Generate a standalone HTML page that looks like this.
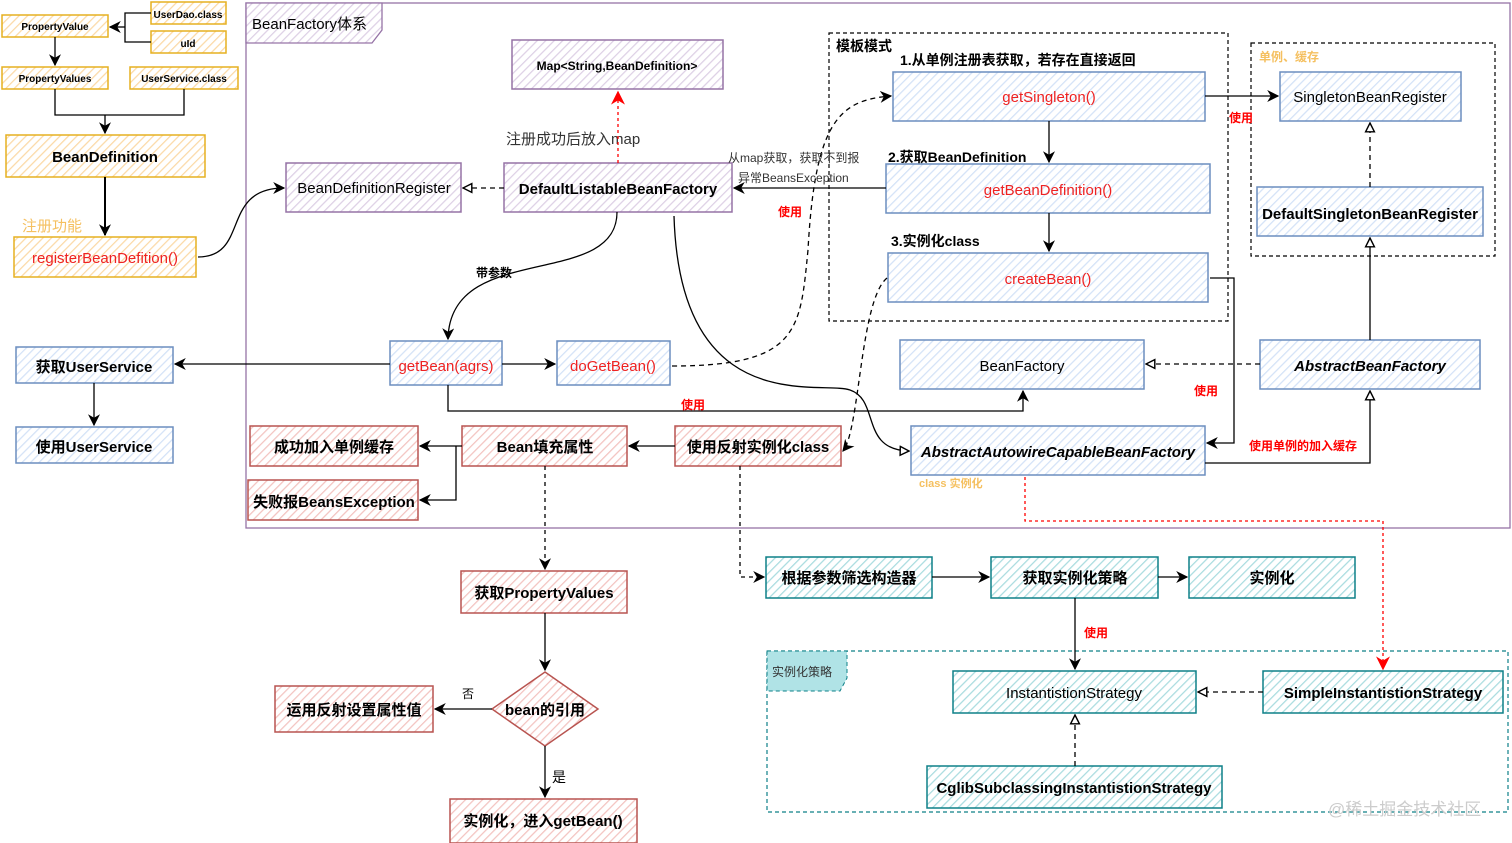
<!DOCTYPE html>
<html><head><meta charset="utf-8"><style>
html,body{margin:0;padding:0;background:#fff;}
svg{display:block;}
text{font-family:"Liberation Sans","Noto Sans CJK SC",sans-serif;}
</style></head><body>
<svg width="1512" height="843" viewBox="0 0 1512 843" xmlns="http://www.w3.org/2000/svg">
<defs>
<pattern id="hy" width="6" height="6" patternUnits="userSpaceOnUse" patternTransform="rotate(45)"><rect width="6" height="6" fill="#fff"/><line x1="0" y1="0" x2="0" y2="6" stroke="#fbd9a6" stroke-width="2.5"/></pattern>
<pattern id="hp" width="6" height="6" patternUnits="userSpaceOnUse" patternTransform="rotate(45)"><rect width="6" height="6" fill="#fff"/><line x1="0" y1="0" x2="0" y2="6" stroke="#ddd0e5" stroke-width="2.5"/></pattern>
<pattern id="hb" width="6" height="6" patternUnits="userSpaceOnUse" patternTransform="rotate(45)"><rect width="6" height="6" fill="#fff"/><line x1="0" y1="0" x2="0" y2="6" stroke="#d3e2f7" stroke-width="2.5"/></pattern>
<pattern id="hr" width="6" height="6" patternUnits="userSpaceOnUse" patternTransform="rotate(45)"><rect width="6" height="6" fill="#fff"/><line x1="0" y1="0" x2="0" y2="6" stroke="#f3c3c0" stroke-width="2.5"/></pattern>
<pattern id="ht" width="6" height="6" patternUnits="userSpaceOnUse" patternTransform="rotate(45)"><rect width="6" height="6" fill="#fff"/><line x1="0" y1="0" x2="0" y2="6" stroke="#a9dcdf" stroke-width="2.5"/></pattern>
<marker id="a" viewBox="0 0 10 10" refX="9" refY="5" markerWidth="12" markerHeight="12" orient="auto" markerUnits="userSpaceOnUse"><path d="M0,0 L10,5 L0,10 L3,5z" fill="#000"/></marker>
<marker id="ar" viewBox="0 0 10 10" refX="9" refY="5" markerWidth="14" markerHeight="14" orient="auto" markerUnits="userSpaceOnUse"><path d="M0,0 L10,5 L0,10 L3,5z" fill="#f00"/></marker>
<marker id="o" viewBox="0 0 10 10" refX="9" refY="5" markerWidth="11" markerHeight="11" orient="auto" markerUnits="userSpaceOnUse"><path d="M1,1 L9,5 L1,9z" fill="#fff" stroke="#000" stroke-width="1.3"/></marker>
</defs>

<rect x="246" y="3" width="1264" height="525" fill="none" stroke="#9673a6" stroke-width="1.3"/>
<path d="M246,3 H382 V30 L372,43 H246z" fill="url(#hp)" stroke="#9673a6" stroke-width="1.3"/>
<text x="252" y="29" font-size="15">BeanFactory体系</text>
<rect x="829" y="33" width="399" height="288" fill="none" stroke="#000" stroke-dasharray="4,3" stroke-width="1.2"/>
<text x="836" y="51" font-size="14" font-weight="bold">模板模式</text>
<text x="900" y="65" font-size="14" font-weight="bold">1.从单例注册表获取，若存在直接返回</text>
<rect x="1251" y="43" width="244" height="213" fill="none" stroke="#000" stroke-dasharray="4,3" stroke-width="1.2"/>
<text x="1259" y="61" font-size="12" fill="#f5c060" font-weight="bold">单例、缓存</text>
<rect x="767" y="651" width="741" height="161" fill="none" stroke="#0e8088" stroke-dasharray="4,3" stroke-width="1.2"/>
<path d="M767,651 H847 V678 L840,691 H767z" fill="#b0e3e6" stroke="#0e8088" stroke-dasharray="4,3"/>
<text x="772" y="676" font-size="12" fill="#333">实例化策略</text>

<g stroke="#e6b020" stroke-width="1.5" fill="url(#hy)">
<rect x="2" y="15" width="106" height="22"/><rect x="151" y="2" width="75" height="22"/><rect x="151" y="31" width="75" height="22"/>
<rect x="2" y="67" width="106" height="22"/><rect x="130" y="67" width="108" height="22"/>
<rect x="6" y="135" width="199" height="42"/><rect x="14" y="237" width="182" height="40"/>
</g>
<g font-size="10" font-weight="bold" text-anchor="middle">
<text x="55" y="30">PropertyValue</text><text x="188" y="18">UserDao.class</text><text x="188" y="47">uId</text>
<text x="55" y="82">PropertyValues</text><text x="184" y="82">UserService.class</text>
</g>
<text x="105" y="162" font-size="15" font-weight="bold" text-anchor="middle">BeanDefinition</text>
<text x="105" y="263" font-size="15" fill="#e22" text-anchor="middle">registerBeanDefition()</text>
<text x="22" y="231" font-size="15" fill="#f5c060">注册功能</text>

<g stroke="#9673a6" stroke-width="1.5" fill="url(#hp)">
<rect x="512" y="40" width="211" height="49"/><rect x="286" y="163" width="175" height="49"/><rect x="504" y="163" width="228" height="49"/>
</g>
<text x="617" y="70" font-size="12" font-weight="bold" text-anchor="middle">Map&lt;String,BeanDefinition&gt;</text>
<text x="374" y="193" font-size="15" text-anchor="middle">BeanDefinitionRegister</text>
<text x="618" y="194" font-size="15" font-weight="bold" text-anchor="middle">DefaultListableBeanFactory</text>
<text x="506" y="144" font-size="15" fill="#333">注册成功后放入map</text>

<g stroke="#6c8ebf" stroke-width="1.5" fill="url(#hb)">
<rect x="893" y="72" width="312" height="49"/><rect x="886" y="164" width="324" height="49"/><rect x="888" y="253" width="320" height="49"/>
<rect x="1280" y="72" width="181" height="49"/><rect x="1257" y="187" width="226" height="49"/>
<rect x="900" y="340" width="244" height="49"/><rect x="1260" y="340" width="220" height="49"/><rect x="911" y="426" width="294" height="49"/>
<rect x="390" y="341" width="112" height="44"/><rect x="557" y="341" width="113" height="44"/>
<rect x="16" y="347" width="157" height="36"/><rect x="16" y="427" width="157" height="36"/>
</g>
<g font-size="15" text-anchor="middle">
<text x="1049" y="102" fill="#e22">getSingleton()</text>
<text x="1048" y="195" fill="#e22">getBeanDefinition()</text>
<text x="1048" y="284" fill="#e22">createBean()</text>
<text x="1370" y="102">SingletonBeanRegister</text>
<text x="1370" y="219" font-weight="bold">DefaultSingletonBeanRegister</text>
<text x="1022" y="371">BeanFactory</text>
<text x="1370" y="371" font-style="italic" font-weight="bold">AbstractBeanFactory</text>
<text x="1058" y="457" font-style="italic" font-weight="bold">AbstractAutowireCapableBeanFactory</text>
<text x="446" y="371" fill="#e22">getBean(agrs)</text>
<text x="613" y="371" fill="#e22">doGetBean()</text>
<text x="94" y="372" font-weight="bold">获取UserService</text>
<text x="94" y="452" font-weight="bold">使用UserService</text>
</g>
<text x="888" y="162" font-size="14" font-weight="bold">2.获取BeanDefinition</text>
<text x="891" y="246" font-size="14" font-weight="bold">3.实例化class</text>

<g stroke="#b85450" stroke-width="1.5" fill="url(#hr)">
<rect x="250" y="426" width="168" height="40"/><rect x="462" y="426" width="165" height="40"/><rect x="675" y="426" width="166" height="40"/>
<rect x="248" y="480" width="170" height="40"/><rect x="461" y="571" width="166" height="42"/><rect x="275" y="686" width="158" height="46"/>
<path d="M545,672 L598,709 L545,746 L492,709z"/><rect x="450" y="799" width="187" height="44"/>
</g>
<g font-size="15" font-weight="bold" text-anchor="middle">
<text x="334" y="452">成功加入单例缓存</text><text x="545" y="452">Bean填充属性</text><text x="758" y="452">使用反射实例化class</text>
<text x="334" y="507">失败报BeansException</text><text x="544" y="598">获取PropertyValues</text><text x="354" y="715">运用反射设置属性值</text>
<text x="545" y="715">bean的引用</text><text x="543" y="826">实例化，进入getBean()</text>
</g>
<text x="462" y="698" font-size="12">否</text><text x="552" y="782" font-size="14">是</text>

<g stroke="#0e8088" stroke-width="1.5" fill="url(#ht)">
<rect x="766" y="557" width="166" height="41"/><rect x="991" y="557" width="167" height="41"/><rect x="1189" y="557" width="166" height="41"/>
<rect x="953" y="671" width="243" height="42"/><rect x="1263" y="671" width="240" height="42"/><rect x="927" y="766" width="295" height="42"/>
</g>
<g font-size="15" text-anchor="middle">
<text x="849" y="583" font-weight="bold">根据参数筛选构造器</text><text x="1075" y="583" font-weight="bold">获取实例化策略</text><text x="1272" y="583" font-weight="bold">实例化</text>
<text x="1074" y="698">InstantistionStrategy</text><text x="1383" y="698" font-weight="bold">SimpleInstantistionStrategy</text>
<text x="1074" y="793" font-weight="bold">CglibSubclassingInstantistionStrategy</text>
</g>

<g fill="none" stroke="#000" stroke-width="1.3">
<path d="M151,13 H125 V42 H151"/><path d="M125,27 H110" marker-end="url(#a)"/>
<path d="M55,37 V65" marker-end="url(#a)"/>
<path d="M55,89 V115 H184 V89"/><path d="M105,115 V133" marker-end="url(#a)"/>
<path d="M105,177 V235" marker-end="url(#a)" stroke-width="2"/>
<path d="M198,257 C250,257 220,188 284,188" marker-end="url(#a)"/>
<path d="M504,188 H463" stroke-dasharray="5,4" marker-end="url(#o)"/>
<path d="M617,212 C617,290 450,240 448,339" marker-end="url(#a)"/>
<path d="M390,364 H175" marker-end="url(#a)"/>
<path d="M94,383 V425" marker-end="url(#a)"/>
<path d="M502,364 H555" marker-end="url(#a)"/>
<path d="M448,385 V411 H1023 V391" marker-end="url(#a)"/>
<path d="M674,216 C680,420 820,380 850,390 C880,400 860,450 909,451" marker-end="url(#o)"/>
<path d="M672,366 C800,366 800,330 808,250 C815,120 840,100 891,96" stroke-dasharray="5,4" marker-end="url(#a)"/>
<path d="M886,188 H734" marker-end="url(#a)"/>
<path d="M1049,121 V162" marker-end="url(#a)"/>
<path d="M1049,213 V251" marker-end="url(#a)"/>
<path d="M1205,96 H1278" marker-end="url(#a)"/>
<path d="M1370,187 V123" stroke-dasharray="5,4" marker-end="url(#o)"/>
<path d="M1370,340 V238" marker-end="url(#o)"/>
<path d="M1260,364 H1146" stroke-dasharray="5,4" marker-end="url(#o)"/>
<path d="M1210,278 H1234 V443 H1207" marker-end="url(#a)"/>
<path d="M1205,463 H1370 V391" marker-end="url(#o)"/>
<path d="M887,278 C860,300 860,430 843,451" stroke-dasharray="5,4" marker-end="url(#a)"/>
<path d="M675,446 H629" marker-end="url(#a)"/>
<path d="M462,446 H420" marker-end="url(#a)"/>
<path d="M456,446 V500 H420" marker-end="url(#a)"/>
<path d="M545,466 V569" stroke-dasharray="4,4" marker-end="url(#a)"/>
<path d="M740,466 V577 H764" stroke-dasharray="4,4" marker-end="url(#a)"/>
<path d="M545,613 V670" marker-end="url(#a)"/>
<path d="M492,709 H435" marker-end="url(#a)"/>
<path d="M545,746 V797" marker-end="url(#a)"/>
<path d="M932,577 H989" marker-end="url(#a)"/>
<path d="M1158,577 H1187" marker-end="url(#a)"/>
<path d="M1075,598 V669" marker-end="url(#a)"/>
<path d="M1263,692 H1198" stroke-dasharray="5,4" marker-end="url(#o)"/>
<path d="M1075,766 V715" stroke-dasharray="5,4" marker-end="url(#o)"/>
</g>
<path d="M618,163 V92" fill="none" stroke="#f00" stroke-dasharray="3,3" stroke-width="1.3" marker-end="url(#ar)"/>
<path d="M1025,477 V521 H1383 V669" fill="none" stroke="#f00" stroke-dasharray="3,3" stroke-width="1.3" marker-end="url(#ar)"/>

<g font-size="12" font-weight="bold" fill="#f00">
<text x="1229" y="122">使用</text><text x="778" y="216">使用</text><text x="681" y="409">使用</text>
<text x="1194" y="395">使用</text><text x="1249" y="450">使用单例的加入缓存</text><text x="1084" y="637">使用</text>
</g>
<text x="476" y="277" font-size="12" font-weight="bold">带参数</text>
<text x="728" y="162" font-size="12" fill="#333">从map获取，获取不到报</text>
<text x="738" y="182" font-size="12" fill="#333">异常BeansException</text>
<text x="919" y="487" font-size="11" fill="#f5c060" font-weight="bold">class 实例化</text>
<text x="1328" y="815" font-size="17" fill="#ccc">@稀土掘金技术社区</text>
</svg>
</body></html>
